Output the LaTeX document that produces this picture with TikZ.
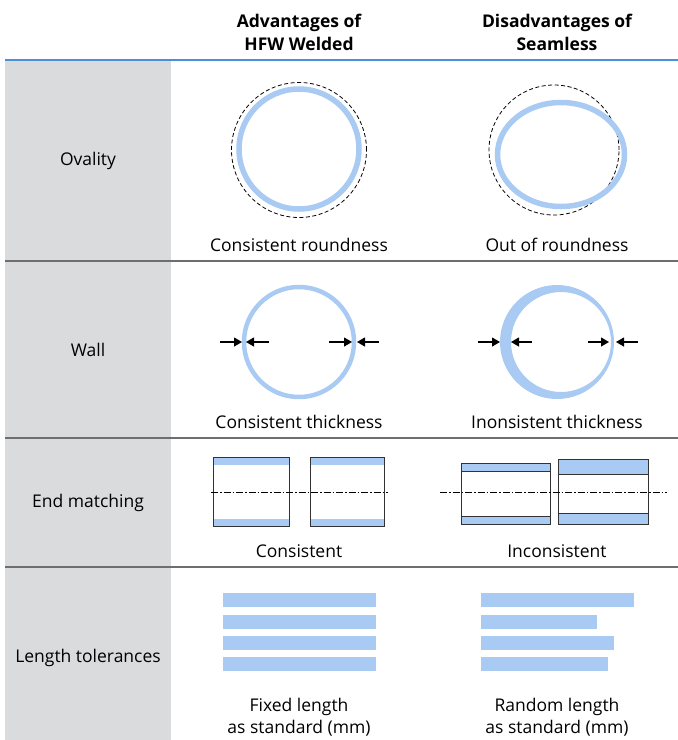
\documentclass[tikz,border=0pt]{standalone}
\usepackage{fontspec}
\setmainfont{Open Sans}
\usetikzlibrary{arrows.meta}
\definecolor{pipe-blue}{RGB}{169,202,242}
\definecolor{head-blue}{RGB}{74,144,217}
\definecolor{side-gray}{RGB}{218,219,220}
\definecolor{rule-gray}{RGB}{110,110,110}
\tikzset{
    head-text/.style = {align=center, font=\bfseries\fontsize{17.5}{23}\selectfont},
    row-label/.style = {font=\fontsize{17.5}{20}\selectfont},
    cell-caption/.style = {align=center, font=\fontsize{17.5}{22}\selectfont},
    pipe-ring/.style = {draw=pipe-blue, line width=5.5pt},
    gauge-line/.style = {dash pattern=on 4pt off 2.5pt, line width=0.8pt},
    pipe-end/.style = {draw=black!80, line width=0.9pt},
    axis-line/.style = {dash pattern=on 7pt off 2pt on 1.5pt off 2pt, line width=0.7pt},
    wall-arrow/.style = {-{Triangle[length=8pt,width=9pt]}, line width=1.1pt},
}

\begin{document}
\begin{tikzpicture}[x=1pt,y=-1pt]
\useasboundingbox (0,0) rectangle (678,740);
% grid of the table
\fill[side-gray] (5,61) rectangle (171,740);
\draw[head-blue, line width=2pt] (5,60) -- (678,60);
\foreach \y in {261,438,567}
    \draw[rule-gray, line width=1.3pt] (5,\y) -- (678,\y);

% headings
\node[head-text] (head-hfw) at (299,32) {Advantages of\\HFW Welded};
\node[head-text] (head-sml) at (557,32) {Disadvantages of\\Seamless};

% row labels
\node[row-label] (lab-oval) at (88,161) {Ovality};
\node[row-label] (lab-wall) at (88,350) {Wall};
\node[row-label] (lab-end) at (88,503) {End matching};
\node[row-label] (lab-len) at (88,658) {Length tolerances};

% ovality
\draw[gauge-line] (299,150) circle[radius=67.5pt];
\draw[pipe-ring] (299,149) circle[radius=60pt];
\node[cell-caption] (cap-round) at (299,245) {Consistent roundness};
\draw[gauge-line] (554,150) circle[radius=65pt];
\draw[pipe-ring] (561,154.5) ellipse[x radius=63.5pt, y radius=52pt];
\node[cell-caption] (cap-oor) at (557,245) {Out of roundness};

% wall
\draw[draw=pipe-blue, line width=4.5pt] (299,342) circle[radius=55pt];
\fill[pipe-blue, even odd rule] (557,342) circle[radius=57pt] (561,342) circle[radius=50pt];
\foreach \from/\to in {220/242, 269/246, 329/352, 379/357, 478/500, 532/511, 588/609, 638/616}
    \draw[wall-arrow] (\from,342) -- (\to,342);
\node[cell-caption] (cap-thk) at (299,422) {Consistent thickness};
\node[cell-caption] (cap-ithk) at (557,422) {Inonsistent thickness};

% end matching
\foreach \xa/\xb in {213/289, 310/384} {
    \fill[pipe-blue] (\xa,457) rectangle (\xb,465);
    \fill[pipe-blue] (\xa,519) rectangle (\xb,526);
    \draw[pipe-end] (\xa,457) rectangle (\xb,526);
}
\draw[axis-line] (211,492) -- (388,492);
\fill[pipe-blue] (461,463) rectangle (550,471);
\fill[pipe-blue] (461,516) rectangle (550,524);
\draw[pipe-end] (461,463) rectangle (550,524) (461,471) -- (550,471) (461,516) -- (550,516);
\fill[pipe-blue] (558,459) rectangle (648,474);
\fill[pipe-blue] (558,513) rectangle (648,524);
\draw[pipe-end] (558,459) rectangle (648,524) (558,474) -- (648,474) (558,513) -- (648,513);
\draw[axis-line] (440,492) -- (667,492);
\node[cell-caption] (cap-con) at (299,551) {Consistent};
\node[cell-caption] (cap-incon) at (557,551) {Inconsistent};

% length tolerances
\foreach \y in {593,615,636,657}
    \fill[pipe-blue] (223,\y) rectangle (376,\y+14);
\foreach \y/\len in {593/634, 615/597, 636/614, 657/608}
    \fill[pipe-blue] (481,\y) rectangle (\len,\y+14);
\node[cell-caption] (cap-fix) at (299,717) {Fixed length\\as standard (mm)};
\node[cell-caption] (cap-rnd) at (557,717) {Random length\\as standard (mm)};
\end{tikzpicture}
\end{document}
